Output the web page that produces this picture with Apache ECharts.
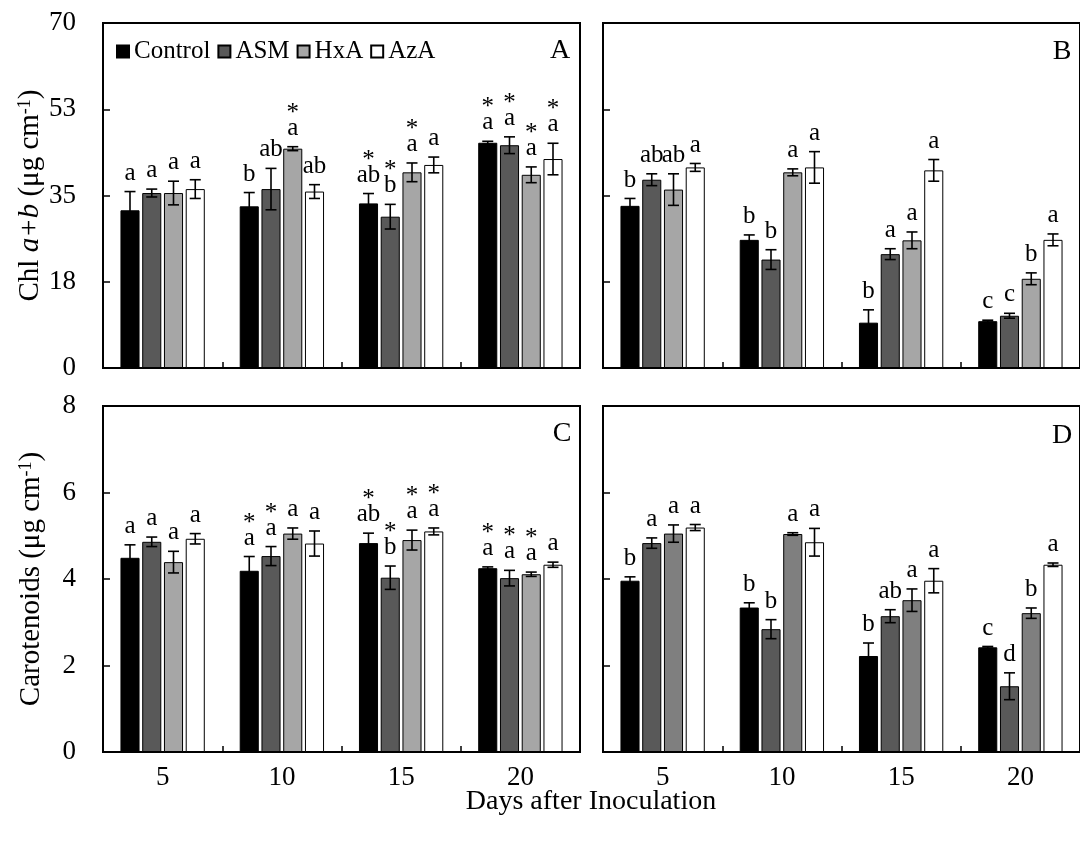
<!DOCTYPE html>
<html>
<head>
<meta charset="utf-8">
<script src="https://cdn.jsdelivr.net/npm/echarts@6/dist/echarts.min.js"></script>
<style>
  html, body { margin: 0; padding: 0; background: #fff; }
  #chart { width: 1080px; height: 845px; }
</style>
</head>
<body>
<div id="chart"></div>
<script>
// ---- data ----------------------------------------------------------------
const days = ['5', '10', '15', '20'];
const treatments = ['Control', 'ASM', 'HxA', 'AzA'];

// Rows follow `treatments`, columns follow `days`.
// Panel A: Chl a+b
const chlA = [[32.0, 32.8, 33.4, 45.7], [35.5, 36.3, 30.7, 45.2], [35.5, 44.5, 39.7, 39.2], [36.3, 35.8, 41.2, 42.4]];
const chlA_err = [[3.8, 2.8, 2.0, 0.3], [0.8, 4.2, 2.5, 1.7], [2.4, 0.4, 1.9, 1.6], [1.9, 1.4, 1.6, 3.2]];
const chlA_letters = [['a', 'b', 'ab', 'a'], ['a', 'ab', 'b', 'a'], ['a', 'a', 'a', 'a'], ['a', 'ab', 'a', 'a']];
const chlA_stars = [[0, 0, 1, 1], [0, 0, 1, 1], [0, 1, 1, 1], [0, 0, 0, 1]];

// Panel B: Chl a+b
const chlB = [[32.9, 26.0, 9.2, 9.5], [38.2, 22.0, 23.1, 10.6], [36.2, 39.7, 25.9, 18.1], [40.7, 40.7, 40.1, 26.0]];
const chlB_err = [[1.5, 1.0, 2.6, 0.2], [1.2, 2.0, 1.1, 0.5], [3.2, 0.7, 1.7, 1.2], [0.8, 3.2, 2.2, 1.2]];
const chlB_letters = [['b', 'b', 'b', 'c'], ['ab', 'b', 'a', 'c'], ['ab', 'a', 'a', 'b'], ['a', 'a', 'a', 'a']];
const chlB_stars = [[0, 0, 0, 0], [0, 0, 0, 0], [0, 0, 0, 0], [0, 0, 0, 0]];

// Panel C: carotenoids
const carC = [[4.49, 4.19, 4.83, 4.25], [4.86, 4.53, 4.03, 4.02], [4.39, 5.05, 4.90, 4.11], [4.93, 4.82, 5.10, 4.33]];
const carC_err = [[0.30, 0.33, 0.23, 0.03], [0.11, 0.22, 0.27, 0.18], [0.25, 0.13, 0.23, 0.05], [0.12, 0.29, 0.08, 0.06]];
const carC_letters = [['a', 'a', 'ab', 'a'], ['a', 'a', 'b', 'a'], ['a', 'a', 'a', 'a'], ['a', 'a', 'a', 'a']];
const carC_stars = [[0, 1, 1, 1], [0, 1, 1, 1], [0, 0, 1, 1], [0, 0, 1, 0]];

// Panel D: carotenoids
const carD = [[3.96, 3.34, 2.22, 2.42], [4.83, 2.84, 3.14, 1.52], [5.05, 5.04, 3.51, 3.21], [5.19, 4.85, 3.96, 4.33]];
const carD_err = [[0.09, 0.11, 0.30, 0.02], [0.12, 0.22, 0.15, 0.31], [0.20, 0.03, 0.26, 0.12], [0.07, 0.32, 0.28, 0.04]];
const carD_letters = [['b', 'b', 'b', 'c'], ['a', 'b', 'ab', 'd'], ['a', 'a', 'a', 'b'], ['a', 'a', 'a', 'a']];
const carD_stars = [[0, 0, 0, 0], [0, 0, 0, 0], [0, 0, 0, 0], [0, 0, 0, 0]];

const chlTicks = [0, 17.5, 35, 52.5, 70];
const carTicks = [0, 2, 4, 6, 8];

// ---- styling ---------------------------------------------------------------
const FONT = 'Liberation Serif';
const BAR_FRAC = 0.16;   // bar width as a share of the category band
const GAP_FRAC = 0.14;   // gap between bars as a share of bar width
const greysLight = ['#000000', '#595959', '#a6a6a6', '#ffffff'];
const greysDark = ['#000000', '#595959', '#7f7f7f', '#ffffff'];

const panels = [
  { tag: 'A', values: chlA, err: chlA_err, letters: chlA_letters, stars: chlA_stars, ticks: chlTicks,
    grid: { left: 103, top: 23, width: 477, height: 345 }, colors: greysLight, yLabels: true, xLabels: false,
    tagPos: [560, 51], yName: '{n|Chl }{i|a+b}{n| (μg cm}{s|-1}{n|)}' },
  { tag: 'B', values: chlB, err: chlB_err, letters: chlB_letters, stars: chlB_stars, ticks: chlTicks,
    grid: { left: 603, top: 23, width: 482, height: 345 }, colors: greysLight, yLabels: false, xLabels: false,
    tagPos: [1062, 52] },
  { tag: 'C', values: carC, err: carC_err, letters: carC_letters, stars: carC_stars, ticks: carTicks,
    grid: { left: 103, top: 406, width: 477, height: 346 }, colors: greysLight, yLabels: true, xLabels: true,
    tagPos: [562, 434], yName: '{n|Carotenoids (μg cm}{s|-1}{n|)}' },
  { tag: 'D', values: carD, err: carD_err, letters: carD_letters, stars: carD_stars, ticks: carTicks,
    grid: { left: 603, top: 406, width: 482, height: 346 }, colors: greysDark, yLabels: false, xLabels: true,
    tagPos: [1062, 436] }
];

const richName = {
  n: { fontFamily: FONT, fontSize: 29, color: '#000' },
  i: { fontFamily: FONT, fontSize: 29, fontStyle: 'italic', color: '#000' },
  s: { fontFamily: FONT, fontSize: 18, color: '#000', verticalAlign: 'top' }
};

const grids = [], xAxes = [], yAxes = [], series = [], graphics = [];

panels.forEach((p, gi) => {
  grids.push(Object.assign({ show: true, borderColor: '#000', borderWidth: 2, backgroundColor: 'transparent' }, p.grid));

  xAxes.push({
    type: 'category', gridIndex: gi, data: days, boundaryGap: true,
    axisLine: { show: true, lineStyle: { color: '#000', width: 2 } },
    axisTick: { show: true, inside: true, length: 6, interval: 0, lineStyle: { color: '#000', width: 1.5 } },
    axisLabel: { show: p.xLabels, margin: 12, fontFamily: FONT, fontSize: 27, color: '#000' },
    splitLine: { show: false }
  });

  const step = p.ticks[1] - p.ticks[0];
  yAxes.push({
    type: 'value', gridIndex: gi, min: p.ticks[0], max: p.ticks[p.ticks.length - 1], interval: step,
    axisLine: { show: true, lineStyle: { color: '#000', width: 2 } },
    axisTick: { show: true, inside: true, length: 7, lineStyle: { color: '#000', width: 1.5 } },
    axisLabel: { show: p.yLabels, margin: 27, fontFamily: FONT, fontSize: 27, color: '#000',
                 formatter: v => String(Math.round(v)) },
    splitLine: { show: false },
    name: p.yName || '', nameLocation: 'middle', nameGap: 57, nameRotate: 90,
    nameTextStyle: { fontFamily: FONT, fontSize: 29, color: '#000', rich: richName }
  });

  // bars
  p.values.forEach((row, s) => {
    series.push({
      type: 'bar', name: treatments[s], xAxisIndex: gi, yAxisIndex: gi, data: row,
      barWidth: (BAR_FRAC * 100) + '%', barGap: (GAP_FRAC * 100) + '%',
      itemStyle: { color: p.colors[s], borderColor: '#000', borderWidth: 1 },
      z: 2
    });
  });

  // error bars with significance letters and asterisks
  const data = [];
  p.values.forEach((row, s) => row.forEach((v, c) => data.push([c, v, p.err[s][c], s])));
  series.push({
    type: 'custom', xAxisIndex: gi, yAxisIndex: gi, z: 5, data: data,
    encode: { x: 0, y: 1 },
    renderItem: (params, api) => {
      const c = api.value(0), v = api.value(1), e = api.value(2), s = api.value(3);
      const catW = api.size([1, 0])[0];
      const pitch = catW * BAR_FRAC * (1 + GAP_FRAC);
      const x = api.coord([c, 0])[0] + (s - 1.5) * pitch;
      const yT = api.coord([c, v + e])[1];
      const yB = api.coord([c, v - e])[1];
      const cap = 5.5;
      const ln = (x1, y1, x2, y2) => ({ type: 'line', shape: { x1, y1, x2, y2 },
        style: { stroke: '#000', lineWidth: 1.6 } });
      const children = [ln(x, yT, x, yB), ln(x - cap, yT, x + cap, yT), ln(x - cap, yB, x + cap, yB)];
      const labelBottom = yT - 6;
      children.push({ type: 'text', style: { text: p.letters[s][c], x: x, y: labelBottom,
        fill: '#000', fontFamily: FONT, fontSize: 25, align: 'center', verticalAlign: 'bottom' } });
      if (p.stars[s][c]) {
        children.push({ type: 'text', style: { text: '*', x: x, y: labelBottom - 15,
          fill: '#000', fontFamily: FONT, fontSize: 25, align: 'center', verticalAlign: 'bottom' } });
      }
      return { type: 'group', children: children };
    }
  });

  // panel tag
  graphics.push({ type: 'text', x: p.tagPos[0], y: p.tagPos[1],
    style: { text: p.tag, fontFamily: FONT, fontSize: 28, fill: '#000', align: 'center', verticalAlign: 'middle' } });
});

graphics.push({ type: 'text', x: 591, y: 802,
  style: { text: 'Days after Inoculation', fontFamily: FONT, fontSize: 28, fill: '#000',
           align: 'center', verticalAlign: 'middle' } });

const chart = echarts.init(document.getElementById('chart'), null, { renderer: 'canvas' });
chart.setOption({
  animation: false,
  backgroundColor: '#fff',
  legend: {
    data: treatments, left: 116, top: 39, padding: 0, icon: 'rect',
    itemWidth: 12, itemHeight: 12, itemGap: 7,
    textStyle: { fontFamily: FONT, fontSize: 25, color: '#000' }
  },
  grid: grids, xAxis: xAxes, yAxis: yAxes, series: series, graphic: graphics
});
</script>
</body>
</html>
